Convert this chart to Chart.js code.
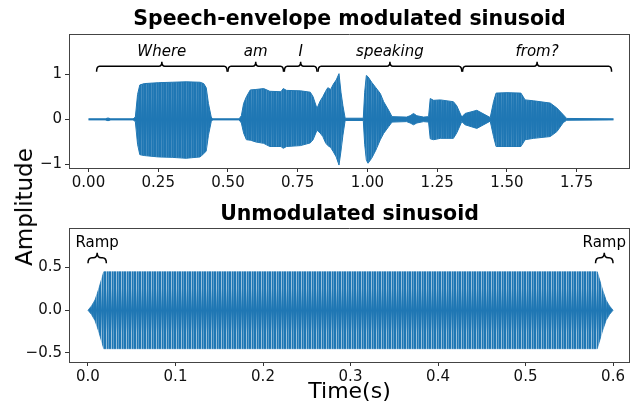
<!DOCTYPE html>
<html><head><meta charset="utf-8">
<script src="https://cdn.jsdelivr.net/npm/chart.js@4.4.0/dist/chart.umd.min.js"></script>
<style>
html,body{margin:0;padding:0;background:#fff;width:630px;height:409px;overflow:hidden;}
#c1{position:absolute;left:0;top:0;width:630px;height:200px;}
#c2{position:absolute;left:0;top:200px;width:630px;height:209px;}
#ylab{position:absolute;left:24px;top:207px;transform:translate(-50%,-50%) rotate(-90deg);font:23px "DejaVu Sans";color:#000;white-space:nowrap;}
</style></head><body>
<canvas id="c1" width="630" height="200"></canvas>
<canvas id="c2" width="630" height="209"></canvas>
<div id="ylab">Amplitude</div>
<script>
// ---------- Top panel: speech-envelope modulated sinusoid (envelope) ----------
const speechTime  = [0.000,0.060,0.070,0.080,0.160,0.168,0.176,0.184,0.200,0.250,0.300,0.350,0.400,0.413,0.422,0.430,0.440,0.445,
                     0.540,0.548,0.556,0.566,0.580,0.600,0.628,0.650,0.690,0.698,0.710,0.760,0.795,0.805,0.819,
                     0.830,0.840,0.850,0.858,0.868,0.878,0.888,0.898,0.905,0.912,0.920,0.985,0.990,0.996,1.002,1.015,1.030,1.046,1.058,1.076,1.088,
                     1.140,1.153,1.165,1.177,1.201,1.219,1.225,1.237,1.261,1.308,1.320,1.338,1.350,1.392,1.440,
                     1.452,1.461,1.500,1.550,1.565,1.595,1.655,1.679,1.702,1.714,1.882];
const speechUpper = [0.012,0.012,0.03,0.012,0.012,0.05,0.55,0.76,0.79,0.81,0.82,0.83,0.82,0.79,0.70,0.35,0.05,0.012,
                     0.012,0.08,0.35,0.50,0.65,0.66,0.68,0.62,0.61,0.68,0.64,0.63,0.60,0.50,0.24,
                     0.40,0.50,0.62,0.70,0.66,0.78,0.87,1.01,0.60,0.30,0.025,0.025,0.60,0.97,0.94,0.82,0.70,0.57,0.39,0.20,0.06,
                     0.05,0.08,0.13,0.08,0.05,0.06,0.46,0.42,0.43,0.39,0.30,0.05,0.13,0.20,0.04,
                     0.39,0.58,0.59,0.58,0.43,0.41,0.36,0.25,0.10,0.02,0.012];
const speechLower = [-0.012,-0.012,-0.03,-0.012,-0.012,-0.05,-0.55,-0.78,-0.80,-0.83,-0.84,-0.86,-0.83,-0.76,-0.70,-0.35,-0.05,-0.012,
                     -0.012,-0.08,-0.30,-0.45,-0.46,-0.50,-0.53,-0.60,-0.60,-0.64,-0.60,-0.58,-0.52,-0.45,-0.24,
                     -0.30,-0.38,-0.52,-0.58,-0.62,-0.72,-0.83,-1.01,-0.70,-0.35,-0.025,-0.025,-0.55,-0.90,-0.97,-0.86,-0.68,-0.45,-0.31,-0.16,-0.06,
                     -0.05,-0.08,-0.12,-0.08,-0.05,-0.06,-0.43,-0.45,-0.42,-0.42,-0.30,-0.05,-0.12,-0.20,-0.04,
                     -0.38,-0.60,-0.60,-0.60,-0.45,-0.42,-0.38,-0.27,-0.07,-0.02,-0.012];
const words     = ['Where','am','I','speaking','from?'];
const wordStart = [0.029,0.500,0.702,0.823,1.341];
const wordEnd   = [0.497,0.699,0.819,1.338,1.875];
const topXTicks = [0,0.25,0.5,0.75,1.0,1.25,1.5,1.75];
const topYTicks = [-1,0,1];

// ---------- Bottom panel: unmodulated sinusoid (envelope) ----------
const toneTime  = [0,0.004,0.008,0.012,0.016,0.018,0.582,0.584,0.588,0.592,0.596,0.600];
const toneUpper = [0,0.05,0.12,0.24,0.38,0.45,0.45,0.38,0.24,0.12,0.05,0];
const toneLower = [0,-0.05,-0.12,-0.24,-0.38,-0.45,-0.45,-0.38,-0.24,-0.12,-0.05,0];
const rampLabels = ['Ramp','Ramp'];
const rampStart  = [0.000,0.580];
const rampEnd    = [0.021,0.600];
const botXTicks  = [0,0.1,0.2,0.3,0.4,0.5,0.6];
const botYTicks  = [-0.5,0,0.5];

const FONT = '"DejaVu Sans", sans-serif';
const BLUE = '#1f77b4';
const minus = s => s.replace('-', '\u2212');

function pts(xs, ys){ return xs.map((x,i)=>({x:x, y:ys[i]})); }

function stripePattern(canvasId, h, cy, a1, a2){
  const c=document.createElement('canvas'); c.width=5; c.height=h;
  const g=c.getContext('2d');
  for(let y=0;y<h;y++){
    const d=Math.min(1, Math.abs(y-cy)/22);
    g.fillStyle=BLUE; g.fillRect(0,y,5,1);
    g.fillStyle='rgba(255,255,255,'+(a1*d)+')'; g.fillRect(1,y,1,1);
    g.fillStyle='rgba(255,255,255,'+(a2*d)+')'; g.fillRect(3,y,1,1);
  }
  return document.getElementById(canvasId).getContext('2d').createPattern(c,'repeat');
}

function brace(ctx, x0, x1, y, down, up, q){
  const xm=(x0+x1)/2;
  ctx.beginPath();
  ctx.moveTo(x0, y+down);
  ctx.quadraticCurveTo(x0, y, x0+q, y);
  ctx.lineTo(xm-q, y);
  ctx.quadraticCurveTo(xm, y, xm, y-up);
  ctx.quadraticCurveTo(xm, y, xm+q, y);
  ctx.lineTo(x1-q, y);
  ctx.quadraticCurveTo(x1, y, x1, y+down);
  ctx.stroke();
}

function framePlugin(title, titleBaseline){
  return {
    id:'frame',
    afterDraw(chart){
      const {ctx, chartArea:a} = chart;
      ctx.save();
      ctx.strokeStyle='#444'; ctx.lineWidth=1;
      ctx.beginPath();
      ctx.moveTo(a.left, a.top+0.5); ctx.lineTo(a.right, a.top+0.5);
      ctx.moveTo(a.right-0.5, a.top); ctx.lineTo(a.right-0.5, a.bottom);
      ctx.stroke();
      ctx.fillStyle='#000'; ctx.font='bold 20.5px '+FONT; ctx.textAlign='center'; ctx.textBaseline='alphabetic';
      ctx.fillText(title, (a.left+a.right)/2, titleBaseline);
      ctx.restore();
    }
  };
}

function axes(xmin,xmax,ymin,ymax,xt,yt,xfmt,yfmt,xh,xtitle){
  const tickFont={family:FONT,size:15};
  return {
    x:{type:'linear',min:xmin,max:xmax,
       afterBuildTicks:s=>{s.ticks=xt.map(v=>({value:v}));},
       afterFit:s=>{s.height=xh;},
       ticks:{callback:v=>xfmt(v),font:tickFont,color:'#111',padding:2,maxRotation:0,autoSkip:false},
       grid:{drawOnChartArea:false,drawTicks:true,tickLength:4,color:'#333'},
       border:{display:true,color:'#444',width:1},
       title: xtitle ? {display:true,text:xtitle,color:'#000',font:{family:FONT,size:22},padding:{top:0,bottom:4}} : {display:false}},
    y:{type:'linear',min:ymin,max:ymax,
       afterBuildTicks:s=>{s.ticks=yt.map(v=>({value:v}));},
       afterFit:s=>{s.width=69;},
       ticks:{callback:v=>yfmt(v),font:tickFont,color:'#111',padding:3,autoSkip:false},
       grid:{drawOnChartArea:false,drawTicks:true,tickLength:4,color:'#333'},
       border:{display:true,color:'#444',width:1}}
  };
}

const common = {responsive:false,animation:false,devicePixelRatio:1,
  plugins:{legend:{display:false},tooltip:{enabled:false},title:{display:false}},
  elements:{point:{radius:0},line:{tension:0,borderWidth:1}}};

// Top chart
const patTop = stripePattern('c1', 200, 119, 0.16, 0.08);
new Chart(document.getElementById('c1'),{
  type:'line',
  data:{datasets:[
    {data:pts(speechTime,speechUpper),borderColor:BLUE,backgroundColor:patTop,fill:'+1'},
    {data:pts(speechTime,speechLower),borderColor:BLUE,backgroundColor:patTop,fill:false}
  ]},
  options:Object.assign({},common,{
    layout:{padding:{top:34,left:0,right:0,bottom:0}},
    scales:axes(-0.0698,1.941,-1.075,1.886,topXTicks,topYTicks,v=>minus(v.toFixed(2)),v=>minus(String(v)),32,null)
  }),
  plugins:[framePlugin('Speech-envelope modulated sinusoid',25),{
    id:'words',
    afterDraw(chart){
      const {ctx,scales:{x,y}}=chart;
      ctx.save();
      ctx.strokeStyle='#000'; ctx.lineWidth=1.5; ctx.fillStyle='#000';
      ctx.font='italic 15px '+FONT; ctx.textAlign='center'; ctx.textBaseline='alphabetic';
      const by=y.getPixelForValue(1.176), ly=y.getPixelForValue(1.40);
      words.forEach((w,i)=>{
        const x0=x.getPixelForValue(wordStart[i]), x1=x.getPixelForValue(wordEnd[i]);
        brace(ctx,x0,x1,by,5.5,4.5,3);
        ctx.fillText(w,(x0+x1)/2,ly);
      });
      ctx.restore();
    }
  }]
});

// Bottom chart
const pat = stripePattern('c2', 209, 110, 0.55, 0.28);
new Chart(document.getElementById('c2'),{
  type:'line',
  data:{datasets:[
    {data:pts(toneTime,toneUpper),borderColor:pat,backgroundColor:pat,borderWidth:0.8,fill:'+1'},
    {data:pts(toneTime,toneLower),borderColor:pat,backgroundColor:pat,borderWidth:0.8,fill:false}
  ]},
  options:Object.assign({},common,{
    layout:{padding:{top:28,left:0,right:0,bottom:0}},
    scales:axes(-0.0217,0.6194,-0.606,0.963,botXTicks,botYTicks,v=>minus(v.toFixed(1)),v=>minus(v.toFixed(1)),47,'Time(s)')
  }),
  plugins:[framePlugin('Unmodulated sinusoid',20),{
    id:'ramps',
    afterDraw(chart){
      const {ctx,scales:{x,y}}=chart;
      ctx.save();
      ctx.strokeStyle='#000'; ctx.lineWidth=1.5; ctx.fillStyle='#000';
      ctx.font='15px '+FONT; ctx.textAlign='center'; ctx.textBaseline='alphabetic';
      const by=y.getPixelForValue(0.615), ly=y.getPixelForValue(0.736);
      rampLabels.forEach((w,i)=>{
        const x0=x.getPixelForValue(rampStart[i]), x1=x.getPixelForValue(rampEnd[i]);
        brace(ctx,x0,x1,by,5.5,5,4);
        ctx.fillText(w,(x0+x1)/2,ly);
      });
      ctx.restore();
    }
  }]
});
</script>
</body></html>
